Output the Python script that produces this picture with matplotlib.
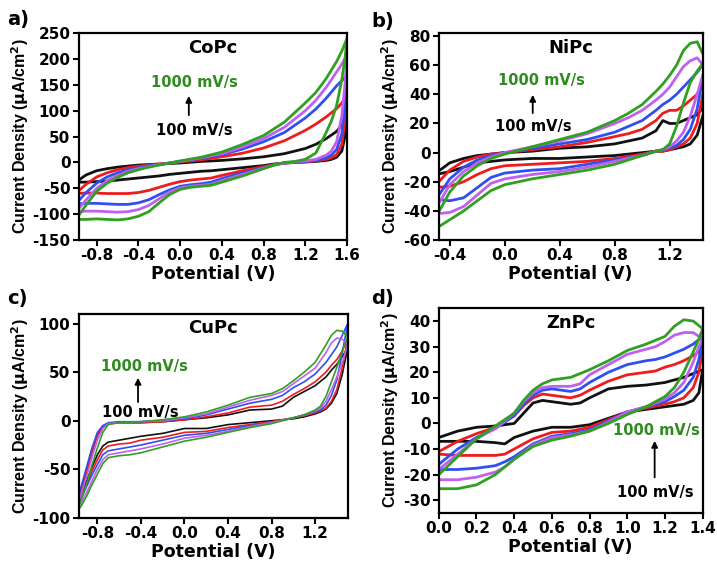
import matplotlib
matplotlib.use('Agg')
import matplotlib.pyplot as plt
import numpy as np

plt.rcParams['font.family'] = ['DejaVu Sans']
plt.rcParams['font.weight'] = 'bold'
plt.rcParams['mathtext.default'] = 'bf'
plt.rcParams['axes.unicode_minus'] = False

colors = ['#111111', '#ee1c1c', '#2f4ff0', '#c060f0', '#2fa020']
rates = ['100 mV/s', '200 mV/s', '400 mV/s', '600 mV/s', '1000 mV/s']

# ---- a) CoPc ----
co_up_x = [-1.0, -0.9, -0.8, -0.7, -0.6, -0.5, -0.4, -0.3, -0.2, -0.1, 0.0, 0.2, 0.4, 0.6, 0.8, 1.0, 1.2, 1.3, 1.4, 1.5, 1.55, 1.6]
co_up = [
    [-38, -24, -16, -12, -9, -7, -5, -4, -3, -2, -1, 2, 4, 7, 11, 17, 27, 35, 46, 60, 72, 88],
    [-60, -42, -28, -20, -14, -10, -7, -5, -3, -1, 1, 5, 11, 18, 28, 42, 62, 74, 88, 104, 115, 130],
    [-80, -58, -40, -28, -20, -14, -10, -6, -4, -1, 2, 8, 15, 26, 40, 58, 86, 103, 124, 148, 158, 168],
    [-96, -72, -50, -35, -25, -17, -12, -8, -4, -1, 2, 9, 17, 30, 46, 68, 100, 120, 145, 175, 190, 208],
    [-110, -82, -56, -40, -29, -20, -14, -9, -5, -1, 3, 10, 20, 35, 52, 78, 115, 135, 162, 195, 215, 240],
]
co_dn_x = [1.6, 1.58, 1.55, 1.5, 1.45, 1.4, 1.3, 1.2, 1.1, 1.0, 0.9, 0.8, 0.6, 0.4, 0.3, 0.2, 0.1, 0.0, -0.1, -0.2, -0.3, -0.4, -0.5, -0.6, -0.7, -0.8, -0.9, -1.0]
co_dn = [
    [88, 50, 22, 10, 6, 4, 2, 1, 0, -1, -3, -6, -10, -14, -16, -17, -19, -21, -23, -26, -28, -30, -32, -34, -36, -37, -38, -38],
    [130, 80, 35, 15, 9, 6, 3, 1, 0, -1, -4, -8, -16, -25, -30, -32, -34, -37, -42, -48, -54, -58, -60, -60, -60, -59, -59, -60],
    [168, 110, 55, 25, 14, 9, 4, 2, 0, -1, -5, -10, -20, -31, -38, -41, -43, -46, -53, -62, -72, -78, -81, -81, -80, -79, -79, -80],
    [208, 150, 90, 40, 22, 14, 6, 3, 1, -1, -5, -11, -23, -35, -42, -44, -46, -49, -57, -70, -83, -91, -95, -96, -95, -94, -94, -96],
    [240, 200, 160, 110, 80, 58, 18, 6, 2, 0, -5, -12, -26, -38, -44, -46, -48, -52, -62, -78, -95, -104, -109, -111, -110, -109, -110, -110],
]

# ---- b) NiPc ----
ni_up_x = [-0.5, -0.4, -0.3, -0.2, -0.1, 0.0, 0.2, 0.4, 0.6, 0.8, 0.9, 1.0, 1.1, 1.15, 1.2, 1.25, 1.3, 1.35, 1.4, 1.46]
ni_up = [
    [-14, -7, -4, -2, -1, 0, 1, 3, 4, 6, 8, 10, 15, 22, 20, 20, 22, 24, 26, 33],
    [-22, -12, -6, -3, -1, 0, 2, 4, 7, 11, 13, 16, 22, 27, 29, 29, 32, 36, 40, 50],
    [-32, -18, -10, -5, -2, 0, 3, 6, 9, 14, 18, 22, 29, 33, 36, 40, 45, 50, 55, 63],
    [-38, -22, -13, -7, -3, 0, 4, 8, 13, 20, 24, 29, 36, 40, 45, 52, 59, 63, 65, 58],
    [-44, -27, -16, -9, -4, -1, 4, 9, 14, 22, 27, 33, 42, 47, 53, 60, 70, 75, 76, 64],
]
ni_dn_x = [1.46, 1.45, 1.4, 1.35, 1.3, 1.25, 1.2, 1.15, 1.1, 1.0, 0.8, 0.6, 0.4, 0.2, 0.0, -0.1, -0.2, -0.3, -0.4, -0.5]
ni_dn = [
    [33, 28, 12, 6, 4, 3, 2, 1, 1, 0, -2, -3, -4, -4, -5, -6, -7, -10, -13, -15],
    [50, 44, 20, 10, 6, 4, 2, 1, 1, -1, -4, -6, -7, -8, -9, -11, -15, -20, -23, -24],
    [63, 56, 30, 16, 9, 5, 3, 2, 1, -2, -5, -8, -11, -12, -14, -17, -24, -31, -33, -32],
    [58, 56, 40, 25, 14, 8, 4, 2, 1, -2, -6, -10, -13, -15, -18, -21, -29, -37, -41, -42],
    [64, 62, 56, 48, 34, 18, 6, 2, 1, -2, -8, -12, -15, -18, -22, -26, -33, -40, -46, -52],
]

# ---- c) CuPc ----
cu_up_x = [-1.0, -0.95, -0.9, -0.85, -0.8, -0.75, -0.7, -0.6, -0.4, -0.2, 0.0, 0.2, 0.4, 0.6, 0.8, 0.9, 1.0, 1.1, 1.2, 1.3, 1.35, 1.4, 1.45, 1.5]
cu_up = [
    [-90, -72, -52, -32, -15, -6, -3, -2, -2, -1, 1, 3, 6, 11, 12, 15, 24, 30, 36, 45, 52, 58, 66, 75],
    [-90, -72, -52, -32, -15, -6, -3, -2, -2, -1, 1, 4, 8, 14, 16, 20, 27, 33, 40, 50, 57, 63, 72, 85],
    [-88, -68, -48, -28, -12, -5, -2, -1, -1, 0, 2, 6, 12, 18, 22, 26, 34, 40, 48, 60, 68, 76, 88, 100],
    [-92, -76, -58, -38, -20, -8, -3, -2, -1, 0, 3, 7, 14, 21, 26, 30, 38, 46, 54, 70, 80, 85, 84, 78],
    [-95, -82, -66, -46, -28, -12, -4, -2, -1, 1, 4, 9, 16, 24, 28, 33, 41, 50, 60, 78, 88, 93, 92, 86],
]
cu_dn_x = [1.5, 1.45, 1.4, 1.35, 1.3, 1.25, 1.2, 1.1, 1.0, 0.8, 0.6, 0.4, 0.2, 0.0, -0.2, -0.4, -0.5, -0.6, -0.7, -0.75, -0.8, -0.85, -0.9, -0.95, -1.0]
cu_dn = [
    [75, 48, 28, 18, 12, 9, 7, 4, 2, 0, -2, -4, -8, -8, -13, -16, -18, -20, -22, -26, -35, -48, -62, -76, -90],
    [85, 55, 32, 20, 13, 10, 8, 5, 3, -1, -4, -7, -11, -12, -17, -20, -23, -24, -26, -30, -40, -52, -66, -78, -90],
    [100, 70, 42, 26, 16, 11, 9, 6, 3, -2, -5, -9, -13, -15, -20, -25, -27, -29, -31, -35, -45, -56, -68, -80, -88],
    [78, 60, 45, 32, 20, 13, 10, 6, 3, -2, -6, -11, -15, -18, -24, -29, -31, -33, -35, -40, -50, -62, -74, -85, -92],
    [86, 72, 55, 40, 25, 15, 11, 6, 3, -3, -7, -12, -17, -21, -27, -33, -35, -36, -38, -44, -55, -66, -78, -88, -95],
]

# ---- d) ZnPc ----
zn_up_x = [0.0, 0.1, 0.2, 0.3, 0.4, 0.45, 0.5, 0.55, 0.6, 0.7, 0.75, 0.8, 0.9, 1.0, 1.1, 1.15, 1.2, 1.25, 1.3, 1.35, 1.4]
zn_up = [
    [-5.5, -3, -1.5, -1, 0, 4, 8, 9, 8.5, 7.5, 8, 10, 13.5, 14.5, 15, 15.5, 16, 17, 18, 19.5, 21],
    [-11, -7, -4, -1.5, 3, 7, 10, 11.5, 11, 10, 11, 13, 16.5, 19, 20, 20.5, 22, 23, 24.5, 26.5, 29],
    [-16, -10, -5.5, -2, 3, 7.5, 11, 13, 13.5, 12.5, 13.5, 16, 20, 23, 24.5, 25, 26, 27.5, 29, 31, 34],
    [-18, -12, -6, -2, 4, 8.5, 12, 14, 14.5, 14.5, 15.5, 19, 23, 27, 29, 30, 32, 34.5, 35.5, 35.5, 33],
    [-20, -13, -6, -1, 4, 9, 13, 15.5, 17, 18, 19.5, 21, 24.5, 28.5, 31, 32.5, 34, 38, 40.5, 40, 37],
]
zn_dn_x = [1.4, 1.38, 1.35, 1.3, 1.25, 1.2, 1.1, 1.0, 0.9, 0.8, 0.7, 0.6, 0.5, 0.4, 0.35, 0.3, 0.2, 0.1, 0.0]
zn_dn = [
    [21, 12, 9, 7.5, 7, 6.5, 5.5, 4.5, 2, -0.5, -1.5, -1.5, -3, -5.5, -8, -7.5, -7, -7, -7],
    [29, 20, 14, 10, 8.5, 7.5, 6, 4.5, 1.5, -1.5, -3, -3.5, -6, -10, -12, -12.5, -12.5, -12.5, -12],
    [34, 25, 18, 13, 10.5, 8.5, 6.5, 4.5, 1, -2.5, -4, -5, -8, -13, -15, -16.5, -17.5, -18, -18],
    [33, 30, 24, 16, 12, 9.5, 6.5, 4.5, 0.5, -3, -4.5, -5.5, -8.5, -14, -17, -19, -21, -22, -22],
    [37, 33, 28, 20, 14, 10.5, 6.5, 3.5, 0, -3, -5, -6.5, -9, -14, -17, -20, -24, -25.5, -25.5],
]

panels = [
    dict(pos=[0.110, 0.586, 0.374, 0.357], name='CoPc', label='a)', lpos=(0.010, 0.967),
         ux=co_up_x, uy=co_up, dx=co_dn_x, dy=co_dn, lw=2.0,
         xlim=(-0.97, 1.6), xt=[-0.8, -0.4, 0.0, 0.4, 0.8, 1.2, 1.6],
         ylim=(-150, 250), yt=list(range(-150, 251, 50)),
         fast=(0.43, 0.76), slow=(0.43, 0.53), arr=(0.41, 0.59, 0.71)),
    dict(pos=[0.612, 0.586, 0.368, 0.357], name='NiPc', label='b)', lpos=(0.518, 0.963),
         ux=ni_up_x, uy=ni_up, dx=ni_dn_x, dy=ni_dn, lw=2.0,
         xlim=(-0.48, 1.44), xt=[-0.4, 0.0, 0.4, 0.8, 1.2],
         ylim=(-60, 82), yt=list(range(-60, 81, 20)),
         fast=(0.39, 0.77), slow=(0.36, 0.55), arr=(0.356, 0.60, 0.715)),
    dict(pos=[0.110, 0.107, 0.375, 0.352], name='CuPc', label='c)', lpos=(0.010, 0.485),
         ux=cu_up_x, uy=cu_up, dx=cu_dn_x, dy=cu_dn, lw=1.2,
         xlim=(-0.97, 1.5), xt=[-0.8, -0.4, 0.0, 0.4, 0.8, 1.2],
         ylim=(-100, 110), yt=[-100, -50, 0, 50, 100],
         fast=(0.245, 0.74), slow=(0.23, 0.515), arr=(0.22, 0.554, 0.70)),
    dict(pos=[0.612, 0.1155, 0.368, 0.353], name='ZnPc', label='d)', lpos=(0.518, 0.486),
         ux=zn_up_x, uy=zn_up, dx=zn_dn_x, dy=zn_dn, lw=2.0,
         xlim=(0.0, 1.4), xt=[0.0, 0.2, 0.4, 0.6, 0.8, 1.0, 1.2, 1.4],
         ylim=(-35, 45), yt=list(range(-30, 41, 10)),
         fast=(0.826, 0.405), slow=(0.82, 0.10), arr=(0.818, 0.16, 0.366)),
]

fig = plt.figure(figsize=(7.17, 5.8), dpi=100)

for p in panels:
    ax = fig.add_axes(p['pos'])
    for i in range(5):
        x = list(p['ux']) + list(p['dx'])
        y = list(p['uy'][i]) + list(p['dy'][i])
        ax.plot(x, y, color=colors[i], lw=p['lw'], solid_joinstyle='round')
    ax.set_xlim(*p['xlim'])
    ax.set_ylim(*p['ylim'])
    ax.set_xticks(p['xt'])
    ax.set_xticklabels(['%.1f' % v for v in p['xt']])
    ax.set_yticks(p['yt'])
    ax.tick_params(direction='out', length=4, width=1.5, labelsize=11, pad=2)
    for s in ax.spines.values():
        s.set_linewidth(1.6)
    ax.set_xlabel('Potential (V)', fontsize=12.5, fontweight='bold', labelpad=1)
    ax.set_ylabel('Current Density ($\\mu$A/cm$^2$)', fontsize=11.5, fontweight='bold',
                  family='Liberation Sans', labelpad=1)
    ax.text(0.5, 0.93, p['name'], transform=ax.transAxes, ha='center', va='center',
            fontsize=13, fontweight='bold')
    ax.text(p['fast'][0], p['fast'][1], '1000 mV/s', transform=ax.transAxes, ha='center',
            va='center', fontsize=10.5, fontweight='bold', color='#2e8b1e')
    ax.text(p['slow'][0], p['slow'][1], '100 mV/s', transform=ax.transAxes, ha='center',
            va='center', fontsize=10.5, fontweight='bold', color='black')
    ax.annotate('', xy=(p['arr'][0], p['arr'][2]), xytext=(p['arr'][0], p['arr'][1]),
                xycoords='axes fraction', textcoords='axes fraction',
                arrowprops=dict(arrowstyle='-|>', color='black', lw=1.3, mutation_scale=9))
    fig.text(p['lpos'][0], p['lpos'][1], p['label'], fontsize=14, fontweight='bold', va='center')

fig.savefig('out.png', dpi=100)
